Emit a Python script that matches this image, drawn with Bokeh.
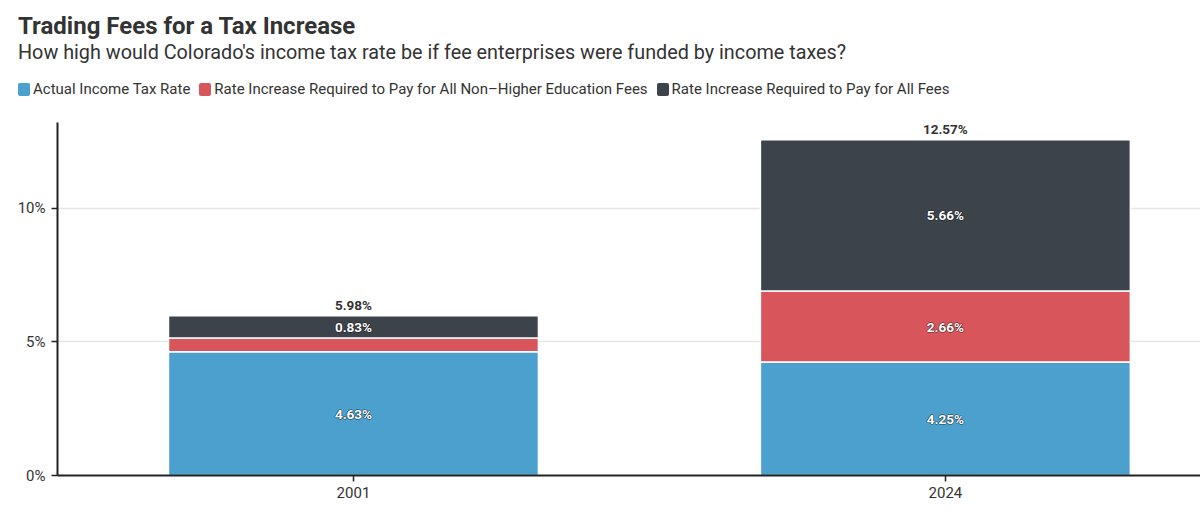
from bokeh.plotting import figure
from bokeh.layouts import column
from bokeh.models import (ColumnDataSource, Range1d, FixedTicker, PrintfTickFormatter, Div)
from bokeh.embed import file_html
from bokeh.resources import INLINE
from bokeh.core.properties import value

# --- data -------------------------------------------------------------
years = ["2001", "2024"]
actual_rate = [4.63, 4.25]
non_higher_ed_increase = [0.52, 2.66]
all_fees_increase = [0.83, 5.66]
series_names = [
    "Actual Income Tax Rate",
    "Rate Increase Required to Pay for All Non\u2013Higher Education Fees",
    "Rate Increase Required to Pay for All Fees",
]
y_ticks = [0, 5, 10]
title_text = "Trading Fees for a Tax Increase"
subtitle_text = "How high would Colorado's income tax rate be if fee enterprises were funded by income taxes?"

# --- styling ----------------------------------------------------------
colors = ["#4ba0cd", "#d8555b", "#3d434b"]
FONT = "Roboto"
TEXT = "#333333"
W = 1200
HEADER_H = 122
CHART_H = 518 - HEADER_H

# --- header: title, subtitle and legend as HTML -------------------------
legend_html = "".join(
    f'<span style="margin-right:9px;white-space:nowrap;">'
    f'<span style="display:inline-block;width:12px;height:13px;border-radius:2px;'
    f'background:{c};margin-right:3px;vertical-align:-2px;"></span>{n}</span>'
    for n, c in zip(series_names, colors)
)
header_html = (
    f'<div style="position:relative;width:{W}px;height:{HEADER_H}px;'
    f'font-family:{FONT};color:{TEXT};">'
    f'<div style="position:absolute;left:18px;top:14px;font-size:24px;font-weight:bold;'
    f'line-height:1;white-space:nowrap;">{title_text}</div>'
    f'<div style="position:absolute;left:18px;top:43px;font-size:19.8px;'
    f'line-height:1;white-space:nowrap;">{subtitle_text}</div>'
    f'<div style="position:absolute;left:18px;top:82px;font-size:15px;'
    f'line-height:1;white-space:nowrap;">{legend_html}</div>'
    f'</div>'
)
header = Div(text=header_html, width=W, height=HEADER_H, margin=0)

# --- main chart --------------------------------------------------------
x_pos = list(range(len(years)))
stack_keys = ["actual", "nonhe", "allfees"]
src = ColumnDataSource(dict(x=x_pos, year=years, actual=actual_rate,
                            nonhe=non_higher_ed_increase, allfees=all_fees_increase))

p = figure(width=W, height=CHART_H, title=None,
           x_range=Range1d(-0.5, 1.431), y_range=Range1d(0, 13.22),
           output_backend="svg", toolbar_location=None,
           min_border_left=57, min_border_right=0,
           min_border_top=0, min_border_bottom=43, margin=0)

bars = p.vbar_stack(stack_keys, x="x", width=0.625, source=src,
                    color=colors, line_color="white", line_width=1.5)

# segment labels (only where the segment is tall enough) and totals
seg_x, seg_y, seg_t = [], [], []
tot_x, tot_y, tot_t = [], [], []
for i, xv in enumerate(x_pos):
    base = 0.0
    for vals in (actual_rate, non_higher_ed_increase, all_fees_increase):
        v = vals[i]
        if v >= 0.7:
            seg_x.append(xv)
            seg_y.append(base + v / 2)
            seg_t.append(f"{v:.2f}%")
        base += v
    tot_x.append(xv)
    tot_y.append(base)
    tot_t.append(f"{base:.2f}%")

label_style = dict(text_font=value(FONT), text_font_style="bold", text_font_size="13.5px",
                   text_align="center", text_baseline="middle")
# soft dark halo behind the white segment labels
for dx, dy in ((1, 0), (-1, 0), (0, 1), (0, -1)):
    p.text(x=seg_x, y=seg_y, text=seg_t, text_color="#111111", text_alpha=0.4,
           x_offset=dx, y_offset=dy, **label_style)
p.text(x=seg_x, y=seg_y, text=seg_t, text_color="white", **label_style)
p.text(x=tot_x, y=tot_y, text=tot_t, text_color=TEXT, y_offset=-11, **label_style)

# axes
p.yaxis.ticker = FixedTicker(ticks=y_ticks)
p.yaxis.formatter = PrintfTickFormatter(format="%d%%")
p.xaxis.ticker = FixedTicker(ticks=x_pos)
p.xaxis.major_label_overrides = {i: y for i, y in enumerate(years)}
for ax in (p.xaxis, p.yaxis):
    ax.axis_line_color = "#222222"
    ax.axis_line_width = 2
    ax.major_tick_line_color = "#222222"
    ax.major_tick_line_width = 1.5
    ax.major_tick_out = 6
    ax.major_tick_in = 0
    ax.minor_tick_line_color = None
    ax.major_label_text_font = FONT
    ax.major_label_text_color = TEXT
    ax.major_label_text_font_size = "15px"
p.yaxis.major_label_standoff = 6
p.xaxis.major_label_standoff = 5

p.xgrid.visible = False
p.ygrid.ticker = FixedTicker(ticks=[5, 10])
p.ygrid.grid_line_color = "#e6e6e6"
p.ygrid.grid_line_width = 1.5
p.outline_line_color = None

layout = column(header, p, spacing=0, margin=0)
open("out.html", "w").write(file_html(layout, INLINE))
